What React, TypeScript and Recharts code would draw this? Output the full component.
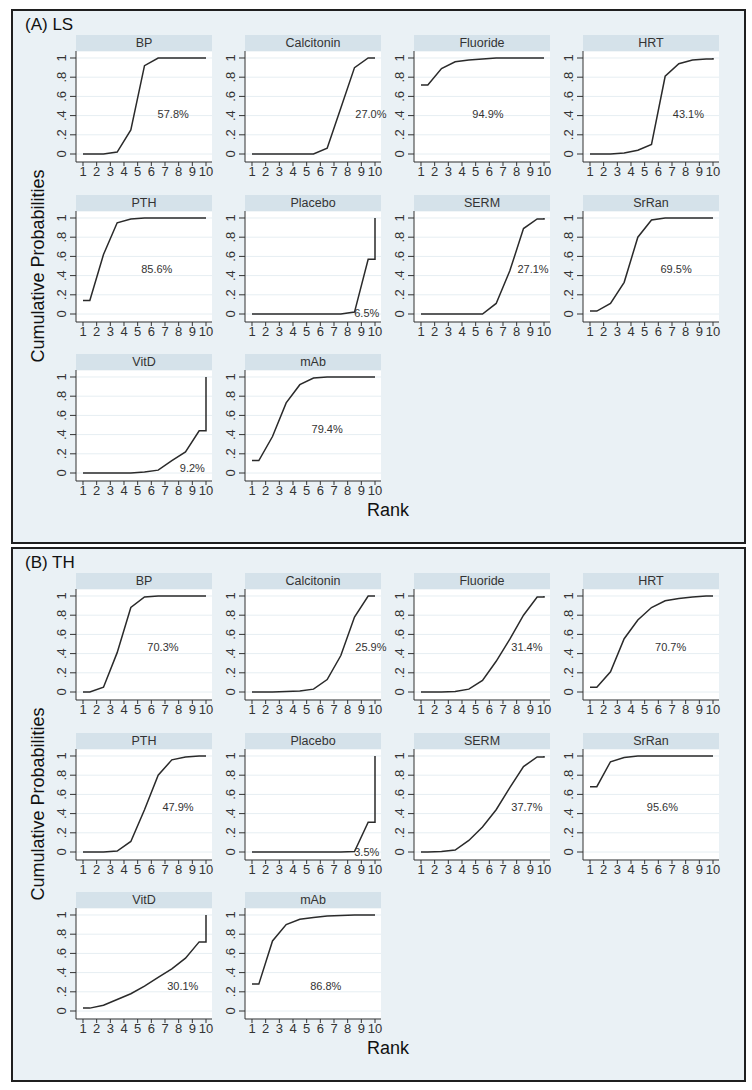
import { LineChart, Line, XAxis, YAxis, CartesianGrid, ReferenceDot } from 'recharts'

// cumulative ranking probabilities, rank 1..10
const treatments = ['BP', 'Calcitonin', 'Fluoride', 'HRT', 'PTH', 'Placebo', 'SERM', 'SrRan', 'VitD', 'mAb']
const rankTicks = [1, 2, 3, 4, 5, 6, 7, 8, 9, 10]
const probTicks = [0, 0.2, 0.4, 0.6, 0.8, 1]

// (A) LS
const lsBP = [0, 0, 0.02, 0.25, 0.92, 1, 1, 1, 1, 1]
const lsCalcitonin = [0, 0, 0, 0, 0, 0.06, 0.48, 0.9, 1, 1]
const lsFluoride = [0.72, 0.89, 0.96, 0.98, 0.99, 1, 1, 1, 1, 1]
const lsHRT = [0, 0, 0.01, 0.04, 0.1, 0.81, 0.94, 0.98, 0.99, 1]
const lsPTH = [0.14, 0.62, 0.95, 0.99, 1, 1, 1, 1, 1, 1]
const lsPlacebo = [0, 0, 0, 0, 0, 0, 0, 0.02, 0.57, 1]
const lsSERM = [0, 0, 0, 0, 0, 0.11, 0.45, 0.89, 0.99, 1]
const lsSrRan = [0.03, 0.11, 0.33, 0.8, 0.98, 1, 1, 1, 1, 1]
const lsVitD = [0, 0, 0, 0, 0.01, 0.03, 0.13, 0.22, 0.44, 1]
const lsMAb = [0.13, 0.38, 0.73, 0.92, 0.99, 1, 1, 1, 1, 1]
const lsSucra = ['57.8%', '27.0%', '94.9%', '43.1%', '85.6%', '6.5%', '27.1%', '69.5%', '9.2%', '79.4%']
const lsLabelX = [7.6, 9.7, 5.9, 8.2, 6.4, 9.4, 9.2, 7.3, 9.0, 6.5]
const lsLabelY = [0.42, 0.42, 0.42, 0.42, 0.47, 0.01, 0.47, 0.47, 0.05, 0.46]

// (B) TH
const thBP = [0, 0.05, 0.41, 0.88, 0.99, 1, 1, 1, 1, 1]
const thCalcitonin = [0, 0, 0.005, 0.01, 0.03, 0.13, 0.38, 0.78, 1, 1]
const thFluoride = [0, 0, 0.005, 0.03, 0.12, 0.32, 0.55, 0.8, 0.99, 1]
const thHRT = [0.05, 0.21, 0.555, 0.75, 0.88, 0.95, 0.975, 0.99, 1, 1]
const thPTH = [0, 0, 0.01, 0.11, 0.44, 0.8, 0.96, 0.99, 1, 1]
const thPlacebo = [0, 0, 0, 0, 0, 0, 0, 0.005, 0.31, 1]
const thSERM = [0, 0.005, 0.02, 0.12, 0.26, 0.44, 0.67, 0.89, 0.99, 1]
const thSrRan = [0.68, 0.94, 0.985, 1, 1, 1, 1, 1, 1, 1]
const thVitD = [0.03, 0.06, 0.12, 0.18, 0.26, 0.35, 0.44, 0.55, 0.72, 1]
const thMAb = [0.28, 0.73, 0.9, 0.955, 0.975, 0.99, 0.995, 1, 1, 1]
const thSucra = ['70.3%', '25.9%', '31.4%', '70.7%', '47.9%', '3.5%', '37.7%', '95.6%', '30.1%', '86.8%']
const thLabelX = [6.85, 9.7, 8.75, 6.9, 7.95, 9.4, 8.75, 6.3, 8.3, 6.4]
const thLabelY = [0.47, 0.47, 0.47, 0.47, 0.47, 0.0, 0.47, 0.47, 0.26, 0.26]

const lsCurves = [lsBP, lsCalcitonin, lsFluoride, lsHRT, lsPTH, lsPlacebo, lsSERM, lsSrRan, lsVitD, lsMAb]
const thCurves = [thBP, thCalcitonin, thFluoride, thHRT, thPTH, thPlacebo, thSERM, thSrRan, thVitD, thMAb]

const FONT = '"Liberation Sans", Arial, Helvetica, sans-serif'
const INK = '#333333'
const AXIS_W = 30
const PLOT_W = 136
const PLOT_H = 111
const XAXIS_H = 22
const HEADER_H = 16
const RIGHT_PAD = 18
const colLeft = [63, 232, 401, 570]
const rowTop = [24, 184, 343]

// step-like curve: value of rank k drawn at k + 0.5, closed at 10
function buildPoints(cum: number[]) {
  const pts = [{ x: 1, y: cum[0] }]
  for (let k = 1; k <= 9; k++) pts.push({ x: k + 0.5, y: cum[k - 1] })
  pts.push({ x: 10, y: cum[8] })
  pts.push({ x: 10, y: cum[9] })
  return pts
}

function fmtProb(v: number) {
  if (v === 0) return '0'
  if (v === 1) return '1'
  return String(v).replace(/^0/, '')
}

const YTick = (props: any) => {
  const { y, payload } = props
  return (
    <text
      x={0}
      y={0}
      transform={`translate(${AXIS_W - 15},${y}) rotate(-90)`}
      textAnchor="middle"
      dominantBaseline="central"
      fontSize={13}
      fill={INK}
    >
      {fmtProb(payload.value)}
    </text>
  )
}

function SubPlot({ title, cum, label, lx, ly, left, top }: any) {
  const data = buildPoints(cum)
  return (
    <div style={{ position: 'absolute', left: left - AXIS_W, top }}>
      <div
        style={{
          position: 'absolute',
          left: AXIS_W,
          top: 0,
          width: PLOT_W,
          height: HEADER_H,
          background: '#d5e2ea',
          color: '#333',
          fontSize: 12.5,
          lineHeight: `${HEADER_H}px`,
          textAlign: 'center',
        }}
      >
        {title}
      </div>
      <div style={{ position: 'absolute', left: 0, top: HEADER_H }}>
        <LineChart
          width={AXIS_W + PLOT_W + RIGHT_PAD}
          height={PLOT_H + XAXIS_H}
          data={data}
          margin={{ top: 0, right: RIGHT_PAD, left: 0, bottom: 0 }}
        >
          <CartesianGrid vertical={false} stroke="#e6eef2" fill="#ffffff" />
          <XAxis
            dataKey="x"
            type="number"
            domain={[0.488, 10.439]}
            ticks={rankTicks}
            allowDataOverflow
            height={XAXIS_H}
            tick={{ fill: INK, fontSize: 13 }}
            tickSize={4}
            tickMargin={1}
            axisLine={{ stroke: INK }}
            tickLine={{ stroke: INK }}
            interval={0}
          />
          <YAxis
            type="number"
            domain={[-0.0833, 1.0729]}
            ticks={probTicks}
            allowDataOverflow
            width={AXIS_W}
            tick={<YTick />}
            tickSize={6}
            axisLine={{ stroke: INK }}
            tickLine={{ stroke: INK }}
            interval={0}
          />
          <Line
            dataKey="y"
            type="linear"
            stroke="#2a2a2a"
            strokeWidth={1.5}
            dot={false}
            activeDot={false}
            isAnimationActive={false}
          />
          <ReferenceDot
            x={lx}
            y={ly}
            r={1}
            fill="none"
            stroke="none"
            ifOverflow="visible"
            label={{ value: label, position: 'center', fontSize: 11, fill: INK }}
          />
        </LineChart>
      </div>
    </div>
  )
}

function Panel({ tag, top, curves, sucra, labelX, labelY }: any) {
  return (
    <div
      style={{
        position: 'absolute',
        left: 11,
        top,
        width: 735,
        height: 535,
        boxSizing: 'border-box',
        border: '2px solid #1f1f1f',
        background: '#eaf1f5',
      }}
    >
      <div style={{ position: 'absolute', left: 12, top: 3, fontSize: 17, lineHeight: '22px', color: '#111' }}>
        {tag}
      </div>
      {treatments.map((t, i) => (
        <SubPlot
          key={t}
          title={t}
          cum={curves[i]}
          label={sucra[i]}
          lx={labelX[i]}
          ly={labelY[i]}
          left={colLeft[i % 4]}
          top={rowTop[Math.floor(i / 4)]}
        />
      ))}
      <div
        style={{
          position: 'absolute',
          left: 25,
          top: 255,
          transform: 'translate(-50%, -50%) rotate(-90deg)',
          whiteSpace: 'nowrap',
          fontSize: 18,
          color: '#111',
        }}
      >
        Cumulative Probabilities
      </div>
      <div
        style={{
          position: 'absolute',
          left: 375,
          top: 499,
          transform: 'translate(-50%, -50%)',
          fontSize: 18,
          color: '#111',
        }}
      >
        Rank
      </div>
    </div>
  )
}

export default function App() {
  return (
    <div
      style={{
        position: 'absolute',
        left: 0,
        top: 0,
        width: 752,
        height: 1090,
        background: '#ffffff',
        fontFamily: FONT,
      }}
    >
      <Panel tag="(A) LS" top={9} curves={lsCurves} sucra={lsSucra} labelX={lsLabelX} labelY={lsLabelY} />
      <Panel tag="(B) TH" top={547} curves={thCurves} sucra={thSucra} labelX={thLabelX} labelY={thLabelY} />
    </div>
  )
}
